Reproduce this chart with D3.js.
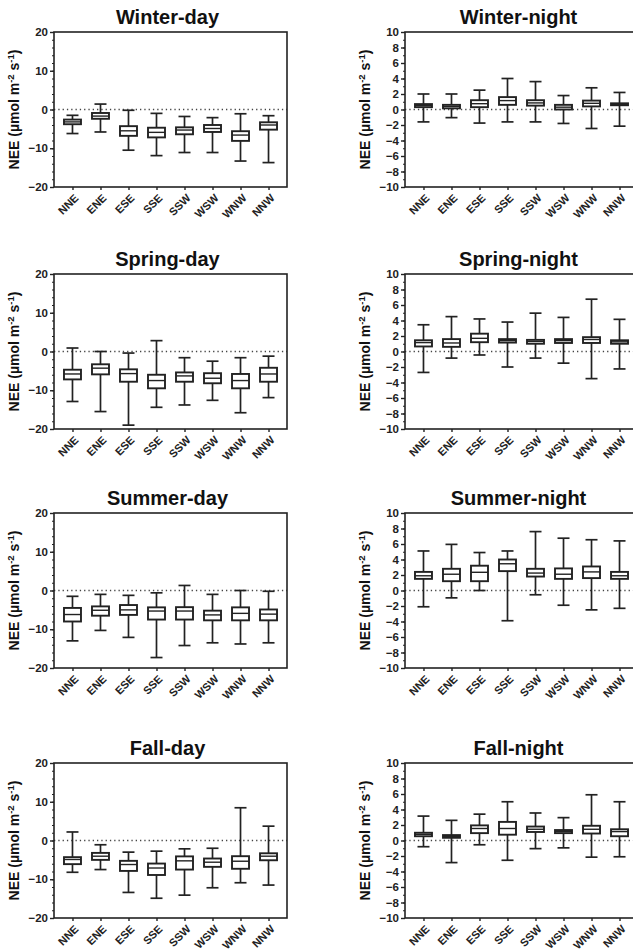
<!DOCTYPE html>
<html>
<head>
<meta charset="utf-8">
<script src="https://cdn.jsdelivr.net/npm/d3@7"></script>
<style>
  body { margin: 0; background: #fff; }
  svg { font-family: "Liberation Sans", Arial, sans-serif; }
</style>
</head>
<body>
<div id="chart"></div>
<script>
// wind sectors
var sectors = ["NNE", "ENE", "ESE", "SSE", "SSW", "WSW", "WNW", "NNW"];

// each row: [whisker low, q1, median, q3, whisker high]
var winterDay = [[-6.2,-3.8,-3.2,-2.6,-1.5],[-5.8,-2.4,-1.7,-0.9,1.4],[-10.5,-6.8,-5.5,-4.3,-0.2],[-11.9,-7.2,-5.9,-4.7,-1.0],
                 [-11.1,-6.4,-5.3,-4.6,-1.8],[-11.1,-5.8,-4.9,-4.0,-2.1],[-13.3,-8.1,-6.6,-5.6,-1.1],[-13.7,-5.2,-4.0,-3.3,-1.6]];
var winterNight = [[-1.6,0.3,0.5,0.7,2.0],[-1.05,0.15,0.4,0.6,2.0],[-1.75,0.3,0.75,1.2,2.5],[-1.6,0.6,1.15,1.6,4.0],
                   [-1.6,0.5,0.85,1.2,3.6],[-1.8,0.0,0.3,0.6,1.8],[-2.45,0.4,0.8,1.15,2.8],[-2.15,0.55,0.65,0.8,2.2]];
var springDay = [[-12.9,-7.2,-5.8,-4.7,0.9],[-15.5,-5.9,-4.3,-3.3,0],[-19.0,-7.8,-5.7,-4.6,-0.4],[-14.4,-9.5,-7.5,-6.0,2.8],
                 [-13.8,-7.8,-6.3,-5.4,-1.6],[-12.6,-8.2,-6.9,-5.6,-2.5],[-15.8,-9.5,-7.5,-5.8,-1.6],[-11.9,-7.8,-5.8,-4.2,-1.2]];
var springNight = [[-2.7,0.65,1.15,1.45,3.45],[-0.85,0.6,1.1,1.6,4.5],[-0.45,1.2,1.7,2.3,4.2],[-2.0,1.15,1.4,1.6,3.8],
                   [-0.85,1.0,1.3,1.5,4.95],[-1.5,1.1,1.4,1.6,4.4],[-3.5,1.1,1.55,1.85,6.75],[-2.25,1.0,1.25,1.45,4.15]];
var summerDay = [[-13.0,-8.0,-6.2,-4.5,-1.5],[-10.3,-6.5,-5.1,-4.1,-1.0],[-12.1,-6.3,-5.0,-3.75,-1.25],[-17.3,-7.5,-5.3,-4.35,-0.6],
                 [-14.2,-7.5,-5.3,-4.3,1.3],[-13.5,-7.7,-6.3,-5.2,-1.0],[-13.8,-7.7,-5.9,-4.35,0],[-13.5,-7.7,-6.1,-4.9,-0.2]];
var summerNight = [[-2.1,1.5,1.9,2.4,5.1],[-0.95,1.2,2.1,2.8,5.95],[0,1.2,2.35,3.2,4.9],[-3.9,2.5,3.45,4.0,5.1],
                   [-0.55,1.8,2.25,2.8,7.6],[-1.9,1.5,2.1,2.85,6.75],[-2.5,1.6,2.4,3.1,6.55],[-2.3,1.5,1.9,2.4,6.4]];
var fallDay = [[-8.2,-6.1,-4.9,-4.3,2.2],[-7.5,-5.0,-4.05,-3.2,-1.1],[-13.4,-7.85,-6.2,-5.25,-3.0],[-14.9,-8.9,-7.1,-5.95,-2.75],
               [-14.1,-7.5,-5.25,-4.1,-2.15],[-12.2,-6.8,-5.6,-4.65,-2.0],[-10.9,-7.3,-5.35,-4.05,8.45],[-11.5,-5.1,-4.05,-3.3,3.7]];
var fallNight = [[-0.8,0.55,0.8,1.0,3.15],[-2.85,0.35,0.5,0.7,2.6],[-0.55,0.95,1.55,1.95,3.4],[-2.55,0.75,1.55,2.4,5.0],
                 [-1.05,1.1,1.45,1.8,3.55],[-0.95,0.95,1.15,1.35,2.95],[-2.15,0.9,1.45,1.9,5.9],[-2.1,0.55,1.15,1.45,5.0]];

var panels = [
  {title: "Winter-day",   data: winterDay,   col: 0, row: 0, day: true},
  {title: "Winter-night", data: winterNight, col: 1, row: 0, day: false},
  {title: "Spring-day",   data: springDay,   col: 0, row: 1, day: true},
  {title: "Spring-night", data: springNight, col: 1, row: 1, day: false},
  {title: "Summer-day",   data: summerDay,   col: 0, row: 2, day: true},
  {title: "Summer-night", data: summerNight, col: 1, row: 2, day: false},
  {title: "Fall-day",     data: fallDay,     col: 0, row: 3, day: true},
  {title: "Fall-night",   data: fallNight,   col: 1, row: 3, day: false}
];

var W = 633, H = 952;
var colLeft = [54, 405];
var rowTop = [32, 274, 513, 763];
var plotW = 233, plotH = 155;
var ink = "#222";

var svg = d3.select("#chart").append("svg")
  .attr("width", W).attr("height", H);

panels.forEach(function(p) {
  var x0 = colLeft[p.col], y0 = rowTop[p.row];
  var g = svg.append("g").attr("transform", "translate(" + x0 + "," + y0 + ")");

  var x = d3.scalePoint().domain(sectors).range([0, plotW]).padding(0.66);
  var yDomain = p.day ? [-20, 20] : [-10, 10];
  var y = d3.scaleLinear().domain(yDomain).range([plotH, 0]);
  var majorStep = p.day ? 10 : 2;
  var minorStep = p.day ? 2 : 1;

  // minor ticks
  g.append("g")
    .call(d3.axisLeft(y).tickValues(d3.range(yDomain[0], yDomain[1] + 0.001, minorStep)).tickSize(2).tickFormat(""))
    .call(function(a) { a.select(".domain").remove(); a.selectAll("line").attr("stroke", ink).attr("stroke-width", 1.2); });

  // major ticks
  g.append("g")
    .call(d3.axisLeft(y).tickValues(d3.range(yDomain[0], yDomain[1] + 0.001, majorStep)).tickSize(4).tickPadding(2))
    .call(function(a) {
      a.select(".domain").remove();
      a.selectAll("line").attr("stroke", ink).attr("stroke-width", 1.4);
      a.selectAll("text").attr("fill", ink).style("font-size", "11.5px").style("font-weight", "bold");
    });

  // x axis
  g.append("g")
    .attr("transform", "translate(0," + plotH + ")")
    .call(d3.axisBottom(x).tickSize(3).tickFormat(""))
    .call(function(a) {
      a.select(".domain").remove();
      a.selectAll("line").attr("stroke", ink).attr("stroke-width", 1.4);
    });

  g.selectAll(".xlab").data(sectors).enter().append("text")
    .attr("class", "xlab")
    .attr("transform", function(d) { return "translate(" + (x(d) + 4) + "," + (plotH + 9) + ") rotate(-45)"; })
    .attr("text-anchor", "end")
    .attr("dy", "0.35em")
    .style("font-size", "11px").style("font-weight", "bold").attr("fill", ink)
    .text(function(d) { return d; });

  // zero line
  g.append("line")
    .attr("x1", 0).attr("x2", plotW)
    .attr("y1", y(0)).attr("y2", y(0))
    .attr("stroke", "#444").attr("stroke-width", 1.3)
    .attr("stroke-dasharray", "1.3,3");

  // boxes
  var boxW = 17, capW = 12;
  var b = g.selectAll(".box").data(p.data).enter().append("g")
    .attr("transform", function(d, i) { return "translate(" + x(sectors[i]) + ",0)"; });

  b.append("line")
    .attr("x1", 0).attr("x2", 0)
    .attr("y1", function(d) { return y(d[0]); })
    .attr("y2", function(d) { return y(d[4]); })
    .attr("stroke", ink).attr("stroke-width", 1.7);
  b.append("line")
    .attr("x1", -capW / 2).attr("x2", capW / 2)
    .attr("y1", function(d) { return y(d[0]); }).attr("y2", function(d) { return y(d[0]); })
    .attr("stroke", ink).attr("stroke-width", 1.7);
  b.append("line")
    .attr("x1", -capW / 2).attr("x2", capW / 2)
    .attr("y1", function(d) { return y(d[4]); }).attr("y2", function(d) { return y(d[4]); })
    .attr("stroke", ink).attr("stroke-width", 1.7);
  b.append("rect")
    .attr("x", -boxW / 2).attr("width", boxW)
    .attr("y", function(d) { return y(d[3]); })
    .attr("height", function(d) { return y(d[1]) - y(d[3]); })
    .attr("fill", "#fff").attr("stroke", ink).attr("stroke-width", 1.9);
  b.append("line")
    .attr("x1", -boxW / 2).attr("x2", boxW / 2)
    .attr("y1", function(d) { return y(d[2]); }).attr("y2", function(d) { return y(d[2]); })
    .attr("stroke", ink).attr("stroke-width", 1.4);

  // frame
  g.append("rect")
    .attr("width", plotW).attr("height", plotH)
    .attr("fill", "none").attr("stroke", ink).attr("stroke-width", 1.6);

  // title
  g.append("text")
    .attr("x", plotW / 2 - 3).attr("y", -8)
    .attr("text-anchor", "middle")
    .style("font-size", "20px").style("font-weight", "bold").attr("fill", "#111")
    .text(p.title);

  // y label
  var lab = g.append("text")
    .attr("transform", "translate(" + (-35) + "," + (plotH / 2) + ") rotate(-90)")
    .attr("text-anchor", "middle")
    .style("font-size", "14px").style("font-weight", "bold").attr("fill", "#111");
  lab.append("tspan").text("NEE (\u00b5mol m");
  lab.append("tspan").attr("dy", -5).style("font-size", "9.5px").text("-2");
  lab.append("tspan").attr("dy", 5).text(" s");
  lab.append("tspan").attr("dy", -5).style("font-size", "9.5px").text("-1");
  lab.append("tspan").attr("dy", 5).text(")");
});
</script>
</body>
</html>
